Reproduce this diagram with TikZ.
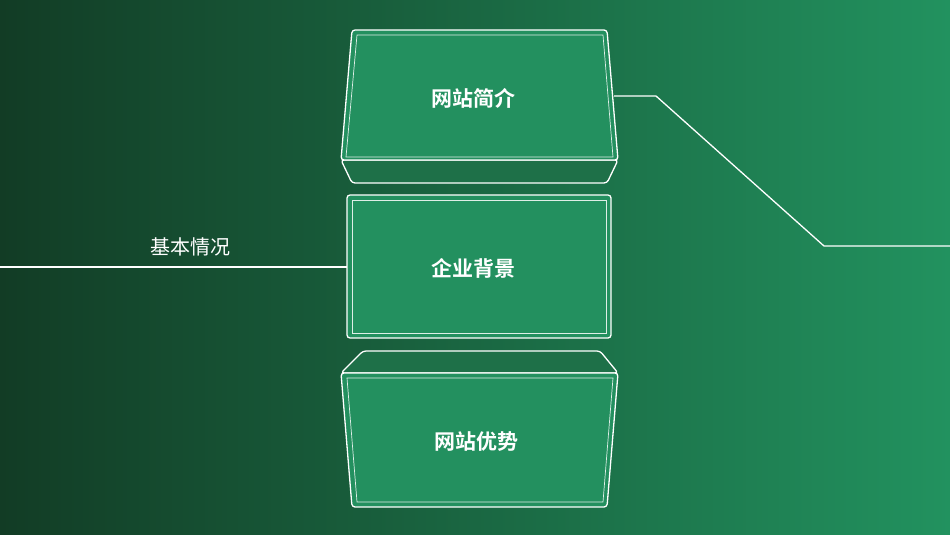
\documentclass[tikz,border=0pt]{standalone}
\usepackage{fontspec}
\newfontfamily\cjk{Noto Sans CJK SC}
\newfontfamily\cjkb{Noto Sans CJK SC Bold}
\definecolor{bgl}{HTML}{123C25}
\definecolor{bgr}{HTML}{22925F}
\definecolor{face}{HTML}{23905F}
\definecolor{slab}{HTML}{1E7048}
\begin{document}
\begin{tikzpicture}[x=1pt,y=-1pt,
  outl/.style={draw=white,line width=1.3pt,rounded corners=3pt,line join=round},
  inl/.style={draw=white!85!face,line width=0.7pt},
  lab/.style={text=white,font=\cjkb\fontsize{21}{21}\selectfont},
  wire/.style={draw=white,line width=1.3pt}]
\shade[left color=bgl,right color=bgr] (0,0) rectangle (950,535);
\useasboundingbox (0,0) rectangle (950,535);
% top box
\path[outl,fill=slab] (341,160) -- (352,183) -- (607,183) -- (618,160) -- cycle;
\path[outl,fill=face] (352,30) -- (607,30) -- (618,160) -- (341,160) -- cycle;
\path[inl] (357,35) -- (603,35) -- (613,157) -- (346,157) -- cycle;
\node[lab] (a) at (473,98) {网站简介};
% middle box
\path[outl,fill=face] (347,195) rectangle (611,338);
\path[inl] (352,200) rectangle (606,333);
\node[lab] (b) at (473,268) {企业背景};
% bottom box
\path[outl,fill=slab] (363,351) -- (600,351) -- (618,373) -- (341,373) -- cycle;
\path[outl,fill=face] (341,373) -- (618,373) -- (607,507) -- (352,507) -- cycle;
\path[inl] (347,378) -- (613,378) -- (603,502) -- (357,502) -- cycle;
\node[lab] (c) at (476,442) {网站优势};
% connectors
\coordinate (l0) at (0,267);
\coordinate (l1) at (347,267);
\draw[wire] (l0) -- (l1);
\node[text=white,font=\cjk\fontsize{20}{20}\selectfont] (t) at (190,247) {基本情况};
\coordinate (r0) at (614,96);
\coordinate (r1) at (656,96);
\coordinate (r2) at (824,246);
\coordinate (r3) at (950,246);
\draw[wire] (r0) -- (r1) -- (r2) -- (r3);
\end{tikzpicture}
\end{document}
